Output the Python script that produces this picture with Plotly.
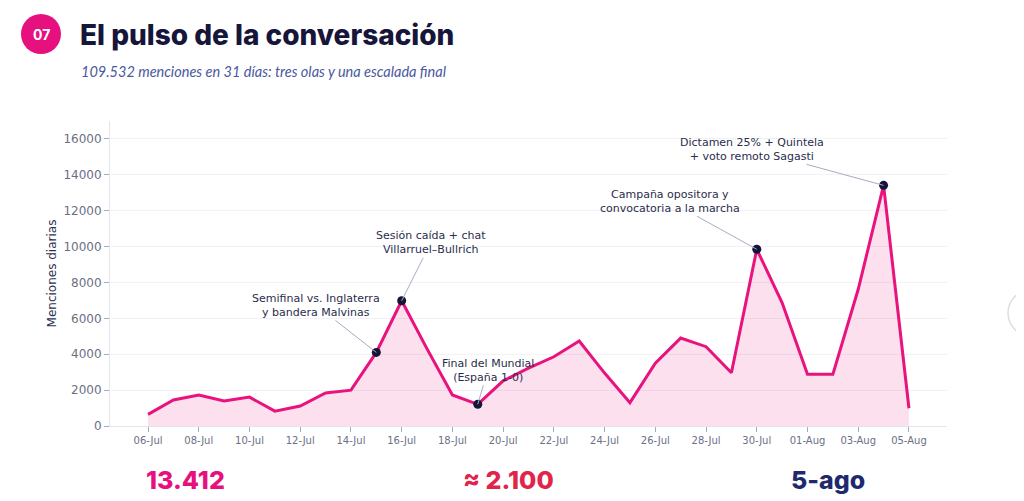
import plotly.graph_objects as go

# ===============================
# DATA
# ===============================

fechas = [
    "2025-07-06", "2025-07-07", "2025-07-08", "2025-07-09", "2025-07-10",
    "2025-07-11", "2025-07-12", "2025-07-13", "2025-07-14", "2025-07-15",
    "2025-07-16", "2025-07-17", "2025-07-18", "2025-07-19", "2025-07-20",
    "2025-07-21", "2025-07-22", "2025-07-23", "2025-07-24", "2025-07-25",
    "2025-07-26", "2025-07-27", "2025-07-28", "2025-07-29", "2025-07-30",
    "2025-07-31", "2025-08-01", "2025-08-02", "2025-08-03", "2025-08-04",
    "2025-08-05",
]
menciones = [
    650, 1450, 1720, 1390, 1610, 830, 1110, 1840, 2000, 4100,
    6980, 4300, 1730, 1210, 2520, 3230, 3860, 4740, 2950, 1300,
    3500, 4900, 4420, 2970, 9850, 6870, 2880, 2880, 7620, 13412,
    990,
]

# hitos anotados: fecha, texto, desplazamiento del texto (px)
hitos_fecha = ["2025-07-15", "2025-07-16", "2025-07-19", "2025-07-30", "2025-08-04"]
hitos_texto = [
    "Semifinal vs. Inglaterra<br>y bandera Malvinas",
    "Sesión caída + chat<br>Villarruel–Bullrich",
    "Final del Mundial<br>(España 1-0)",
    "Campaña opositora y<br>convocatoria a la marcha",
    "Dictamen 25% + Quintela<br>+ voto remoto Sagasti",
]
hitos_ax = [-60, 29, 10, -87, -132]
hitos_ay = [-47, -58, -34, -48, -36]

cifras = ["13.412", "≈ 2.100", "5-ago"]
cifras_color = ["#e6117e", "#e0244a", "#1f2a6e"]

# ===============================
# HELPERS (page pixel -> paper)
# the page body has an 8px margin, so the figure is drawn 8px in
# ===============================

OFF = 8
W, H = 1024 - OFF, 501 - OFF
ML, MR, MT, MB = 110 - OFF, 77, 121 - OFF, 75
PW, PH = W - ML - MR, H - MT - MB


def px(x):
    return (x - OFF - ML) / PW


def py(y):
    return (H - MB - (y - OFF)) / PH


valor = dict(zip(fechas, menciones))

fig = go.Figure()

fig.add_trace(go.Scatter(
    x=fechas,
    y=menciones,
    mode="lines",
    line=dict(color="#e8137d", width=3),
    fill="tozeroy",
    fillcolor="rgba(232,19,125,0.13)",
    hoverinfo="skip",
    showlegend=False,
))

fig.add_trace(go.Scatter(
    x=hitos_fecha,
    y=[valor[f] for f in hitos_fecha],
    mode="markers",
    marker=dict(color="#15153a", size=9),
    showlegend=False,
))

anns = []
for f, t, ax, ay in zip(hitos_fecha, hitos_texto, hitos_ax, hitos_ay):
    anns.append(dict(
        x=f, y=valor[f], text=t, showarrow=True, arrowhead=0,
        arrowwidth=1, arrowcolor="#a9acc0", ax=ax, ay=ay,
        font=dict(family="DejaVu Sans", size=11, color="#2a2d4c"),
    ))

# title block
anns.append(dict(
    xref="paper", yref="paper", x=px(41), y=py(34), xanchor="center",
    yanchor="middle", text="<b>07</b>", showarrow=False,
    font=dict(family="Inter", size=14, color="white"),
))
anns.append(dict(
    xref="paper", yref="paper", x=px(78), y=py(35), xanchor="left",
    yanchor="middle", text="El pulso de la conversación", showarrow=False,
    font=dict(family="Inter", size=28, color="#16163a", weight=800),
))
anns.append(dict(
    xref="paper", yref="paper", x=px(79), y=py(71), xanchor="left",
    yanchor="middle",
    text="109.532 menciones en 31 días: tres olas y una escalada final",
    showarrow=False,
    font=dict(family="Lato", size=14.5, color="#4a58a0", style="italic"),
))

# big numbers under the chart
for c, col, x0 in zip(cifras, cifras_color, [144, 461, 789]):
    anns.append(dict(
        xref="paper", yref="paper", x=px(x0), y=py(480), xanchor="left",
        yanchor="middle", text=c, showarrow=False,
        font=dict(family="Inter", size=25, color=col, weight=800),
    ))

anns.append(dict(
    xref="paper", yref="paper", x=px(1020), y=py(315), xanchor="center",
    yanchor="middle", text="^", showarrow=False,
    font=dict(family="DejaVu Sans", size=11, color="#6a70a0"),
))

shapes = [
    dict(type="circle", xref="paper", yref="paper", xsizemode="pixel",
         ysizemode="pixel", xanchor=px(41), yanchor=py(34),
         x0=-20, x1=20, y0=-20, y1=20, fillcolor="#e6117e",
         line=dict(width=0), layer="above"),
    dict(type="circle", xref="paper", yref="paper", xsizemode="pixel",
         ysizemode="pixel", xanchor=px(1031), yanchor=py(313),
         x0=-23, x1=23, y0=-23, y1=23, fillcolor="white",
         line=dict(width=1.5, color="#dcdce4"), layer="below"),
]

fig.update_layout(
    width=W, height=H,
    margin=dict(l=ML, r=MR, t=MT, b=MB),
    paper_bgcolor="white",
    plot_bgcolor="white",
    annotations=anns,
    shapes=shapes,
    font=dict(family="DejaVu Sans", color="#6b6f85"),
    xaxis=dict(
        type="date",
        range=["2025-07-04 12:00", "2025-08-06 12:00"],
        tick0="2025-07-06",
        dtick=2 * 86400000,
        tickformat="%d-%b",
        ticks="outside", ticklen=5, tickcolor="#a8abbd",
        tickfont=dict(size=10, color="#6b6f85"),
        showline=True, linecolor="#e3e5ee", linewidth=1,
        showgrid=False, zeroline=False,
    ),
    yaxis=dict(
        range=[0, 17000],
        tickvals=[0, 2000, 4000, 6000, 8000, 10000, 12000, 14000, 16000],
        tickformat="d",
        ticks="outside", ticklen=5, tickcolor="#a8abbd",
        tickfont=dict(size=12, color="#6b6f85"),
        showline=True, linecolor="#e3e5ee", linewidth=1,
        gridcolor="#f1f1f6", zeroline=False,
        title=dict(text="Menciones diarias", standoff=4,
                   font=dict(size=12, color="#2d3050")),
    ),
)

fig.write_html("out.html")
